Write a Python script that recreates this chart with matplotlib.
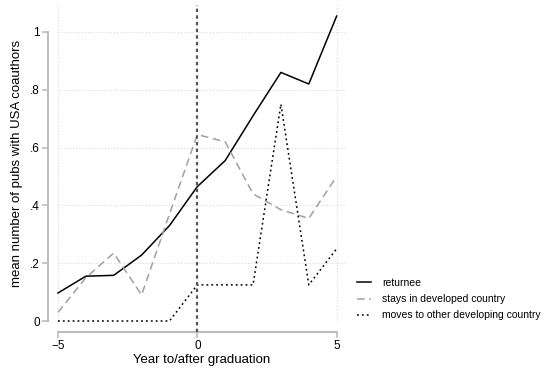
import matplotlib.pyplot as plt

plt.rcParams['font.family'] = ['Liberation Sans', 'DejaVu Sans']

# years relative to graduation
years = [-5, -4, -3, -2, -1, 0, 1, 2, 3, 4, 5]
returnee = [0.097, 0.155, 0.158, 0.228, 0.33, 0.465, 0.555, 0.71, 0.86, 0.82, 1.055]
stays_developed = [0.03, 0.15, 0.235, 0.09, 0.37, 0.645, 0.62, 0.44, 0.385, 0.355, 0.5]
moves_developing = [0, 0, 0, 0, 0, 0.125, 0.125, 0.125, 0.75, 0.125, 0.25]

yticks = [0, 0.2, 0.4, 0.6, 0.8, 1.0]
ytick_labels = ['0', '.2', '.4', '.6', '.8', '1']
xticks = [-5, 0, 5]

fig = plt.figure(figsize=(5.44, 3.73), dpi=100)
ax = fig.add_axes([0.1066, 0.1394, 0.5276, 0.847])

ax.plot(years, returnee, color='black', lw=1.1, label='returnee', clip_on=False)
ax.plot(years, stays_developed, color='#a0a0a0', lw=1.1, dashes=(5, 3),
        label='stays in developed country', clip_on=False)
ax.plot(years, moves_developing, color='black', lw=1.1, dashes=(1.2, 2),
        label='moves to other developing country', clip_on=False)

ax.axvline(0, ymin=-0.035, ymax=1, color='#555555', lw=1.6, dashes=(1.5, 1.5),
           clip_on=False, zorder=3)

ax.set_xlim(-5, 5.3)
ax.set_ylim(0, 1.093)
ax.set_xticks(xticks)
ax.set_yticks(yticks)
ax.set_yticklabels(ytick_labels)
ax.grid(True, color='#d4d4d4', lw=0.7, linestyle=(0, (1, 2)))
ax.set_axisbelow(True)

for side in ['top', 'right']:
    ax.spines[side].set_visible(False)
ax.spines['left'].set_position(('outward', 7))
ax.spines['bottom'].set_position(('outward', 8))
for side in ['left', 'bottom']:
    ax.spines[side].set_color('#bdbdbd')
    ax.spines[side].set_linewidth(1.5)
ax.spines['left'].set_bounds(0, 1)
ax.spines['bottom'].set_bounds(-5, 5)
ax.tick_params(axis='both', colors='#bdbdbd', labelcolor='black', length=4,
               width=1.2, labelsize=8.5, pad=2)

ax.set_xlabel('Year to/after graduation', fontsize=9.5, labelpad=1)
ax.set_ylabel('mean number of pubs with USA coauthors', fontsize=9.5, labelpad=5)

ax.legend(loc='upper left', bbox_to_anchor=(357 / 544, 1 - 278 / 373),
          bbox_transform=fig.transFigure, frameon=False, borderpad=0,
          borderaxespad=0, fontsize=7.5, handlelength=1.3, handletextpad=1.1,
          labelspacing=0.6)

fig.savefig('out.png', dpi=100)
